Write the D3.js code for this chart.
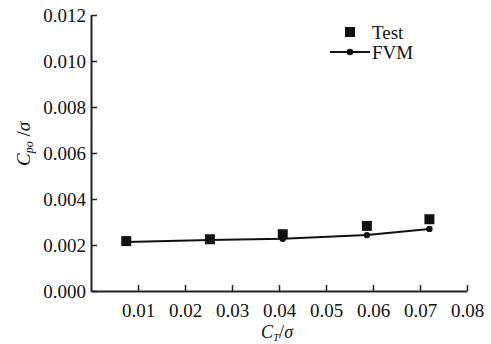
<!DOCTYPE html>
<html>
<head>
<meta charset="utf-8">
<script src="https://cdn.jsdelivr.net/npm/d3@7"></script>
<style>
body{margin:0;background:#fff;}
text{font-family:"Liberation Serif","Times New Roman",serif;fill:#111;}
</style>
</head>
<body>
<script>
// test data (squares)
var testX = [0.0075, 0.0253, 0.0408, 0.0587, 0.0720];
var testY = [0.00217, 0.00225, 0.00247, 0.00283, 0.00312];
// FVM line
var fvmX = [0.0075, 0.0253, 0.0408, 0.0587, 0.0720];
var fvmY = [0.00213, 0.00222, 0.00227, 0.00243, 0.00270];
var xTicks = [0.01, 0.02, 0.03, 0.04, 0.05, 0.06, 0.07, 0.08];
var yTicks = [0, 0.002, 0.004, 0.006, 0.008, 0.010, 0.012];

var width = 491, height = 344;
var margins = {top:15, bottom:53, left:91, right:24};

var svg = d3.select("body").append("svg")
  .attr("width", width)
  .attr("height", height);

var xScale = d3.scaleLinear().domain([0,0.08]).range([margins.left, width-margins.right]);
var yScale = d3.scaleLinear().domain([0,0.012]).range([height-margins.bottom, margins.top]);

var xAxis = svg.append("g")
  .attr("transform","translate(0,"+yScale(0)+")")
  .call(d3.axisBottom(xScale).tickValues(xTicks).tickSizeInner(-6).tickSizeOuter(0).tickPadding(13)
    .tickFormat(d3.format(".2f")));
var yAxis = svg.append("g")
  .attr("transform","translate("+xScale(0)+",0)")
  .call(d3.axisLeft(yScale).tickValues(yTicks).tickSizeInner(-6).tickSizeOuter(0).tickPadding(5)
    .tickFormat(d3.format(".3f")));

[xAxis, yAxis].forEach(function(g){
  g.attr("font-family",null);
  g.select(".domain").attr("stroke","#222").attr("stroke-width",2);
  g.selectAll(".tick line").attr("stroke","#222").attr("stroke-width",1.5);
  g.selectAll(".tick text").attr("font-size",19).attr("fill","#111");
});

var line = d3.line()
  .x(function(d,i){return xScale(fvmX[i]);})
  .y(function(d){return yScale(d);});

svg.append("path")
  .datum(fvmY)
  .attr("d",line)
  .attr("fill","none")
  .attr("stroke","#111")
  .attr("stroke-width",2);

svg.selectAll(".dot")
  .data(fvmY)
  .enter().append("circle")
  .attr("cx",function(d,i){return xScale(fvmX[i]);})
  .attr("cy",function(d){return yScale(d);})
  .attr("r",3.2)
  .attr("fill","#111");

svg.selectAll(".sq")
  .data(testY)
  .enter().append("rect")
  .attr("x",function(d,i){return xScale(testX[i])-5;})
  .attr("y",function(d){return yScale(d)-5;})
  .attr("width",10)
  .attr("height",10)
  .attr("fill","#111");

// legend
var leg = svg.append("g");
leg.append("rect").attr("x",345).attr("y",27).attr("width",10).attr("height",10).attr("fill","#111");
leg.append("text").attr("x",372).attr("y",39).attr("font-size",19).text("Test");
leg.append("line").attr("x1",330).attr("x2",370).attr("y1",52).attr("y2",52)
  .attr("stroke","#111").attr("stroke-width",2);
leg.append("circle").attr("cx",350).attr("cy",52).attr("r",3.2).attr("fill","#111");
leg.append("text").attr("x",372).attr("y",59).attr("font-size",19).text("FVM");

// axis titles
var xt = svg.append("text").attr("x",277).attr("y",338).attr("text-anchor","middle").attr("font-size",18);
xt.append("tspan").attr("font-style","italic").text("C");
xt.append("tspan").attr("font-style","italic").attr("font-size",11).attr("dy",3).text("T");
xt.append("tspan").attr("dy",-3).text("/");
xt.append("tspan").attr("font-style","italic").text("σ");

var yt = svg.append("text").attr("transform","translate(30,144) rotate(-90)")
  .attr("text-anchor","middle").attr("font-size",19);
yt.append("tspan").attr("font-style","italic").text("C");
yt.append("tspan").attr("font-style","italic").attr("font-size",12).attr("dy",3).text("po");
yt.append("tspan").attr("dy",-3).text(" /");
yt.append("tspan").attr("font-style","italic").text("σ");
</script>
</body>
</html>
